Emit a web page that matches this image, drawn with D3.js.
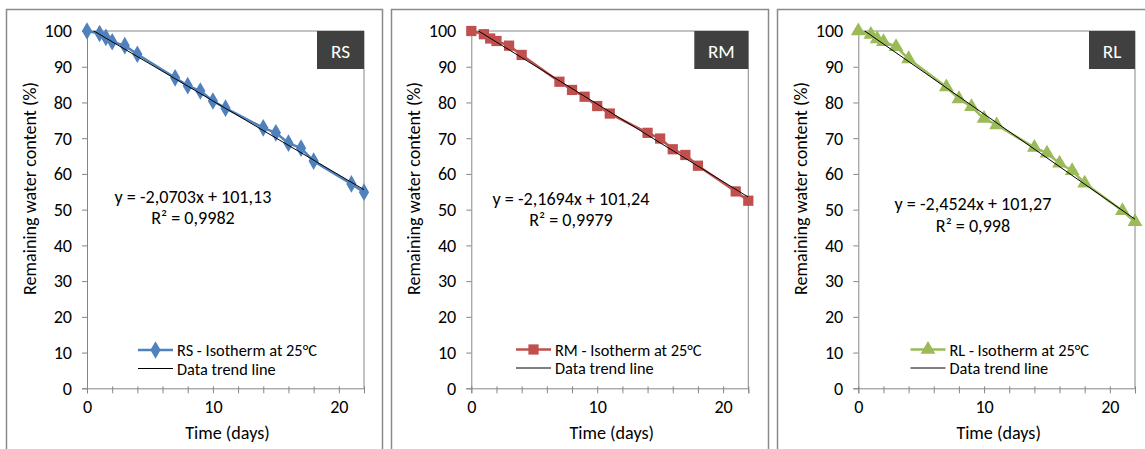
<!DOCTYPE html>
<html>
<head>
<meta charset="utf-8">
<script src="https://cdn.jsdelivr.net/npm/d3@7"></script>
<style>
  html, body { margin: 0; padding: 0; background: #fff; }
  svg { display: block; font-family: Carlito, Calibri, Lato, sans-serif; }
</style>
</head>
<body>
<svg id="chart" width="1145" height="449"></svg>
<script>
// ---------- data ----------
const days = [0, 1, 1.5, 2, 3, 4, 7, 8, 9, 10, 11, 14, 15, 16, 17, 18, 21, 22];
const rsValues = [100, 99.3, 98.2, 97.0, 95.9, 93.5, 86.9, 84.7, 83.2, 80.4, 78.4, 72.9, 71.5, 68.6, 67.2, 63.6, 57.2, 54.9];
const rmValues = [100, 99.1, 97.9, 97.2, 95.9, 93.3, 85.8, 83.5, 81.6, 79.0, 76.9, 71.5, 69.9, 66.9, 65.3, 62.3, 55.1, 52.5];
const rlValues = [100, 99.0, 97.8, 97.0, 95.6, 92.2, 84.3, 81.0, 78.8, 75.5, 73.7, 67.4, 65.8, 63.0, 60.9, 57.4, 49.7, 46.6];
const seriesCodes = ["RS", "RM", "RL"];
const seriesLabels = ["RS - Isotherm at 25°C", "RM - Isotherm at 25°C", "RL - Isotherm at 25°C"];
const trendLabel = "Data trend line";
const slopes = [-2.0703, -2.1694, -2.4524];
const intercepts = [101.13, 101.24, 101.27];
const equationTexts = ["y = -2,0703x + 101,13", "y = -2,1694x + 101,24", "y = -2,4524x + 101,27"];
const r2Texts = ["R² = 0,9982", "R² = 0,9979", "R² = 0,998"];
const yTickValues = [0, 10, 20, 30, 40, 50, 60, 70, 80, 90, 100];
const xTickLabelValues = [0, 10, 20];
const xTickMarkValues = [0, 2, 4, 6, 8, 10, 12, 14, 16, 18, 20, 22];
const yTitle = "Remaining water content (%)";
const xTitle = "Time (days)";

// ---------- layout / style ----------
const colors = ["#4F81BD", "#C0504D", "#9BBB59"];
const markerTypes = [d3.symbolDiamond, d3.symbolSquare, d3.symbolTriangle];
const markerSizes = [90, 105, 95];
const panels = [
  { frameX: 6.5,  frameW: 376, px0: 87,    px1: 364,   eqX: 193, eqY: 197, r2Y: 218, legX: 138,   legY: 350, badgeW: 47 },
  { frameX: 391.5, frameW: 377, px0: 471.3, px1: 748.3, eqX: 571, eqY: 199, r2Y: 220, legX: 516,   legY: 349.5, badgeW: 54 },
  { frameX: 777.5, frameW: 400, px0: 858.3, px1: 1135,  eqX: 973, eqY: 204, r2Y: 226, legX: 910.5, legY: 349.5, badgeW: 46 }
];
const plotTop = 31, plotBottom = 388.3;
const axisColor = "#868686";
const FONT = "Carlito, Calibri, Lato, sans-serif";

const svg = d3.select("#chart");

// fit font sizes to the reference text widths
const probe = svg.append("text").attr("font-size", 20).attr("font-family", FONT).text(yTitle);
const fontSize = 20 * 213 / probe.node().getComputedTextLength();
probe.text(seriesLabels[0]);
const legendFont = 20 * 140 / probe.node().getComputedTextLength();
probe.text("RS");
const badgeFont = Math.min(22, 20 * 19 / probe.node().getComputedTextLength());
probe.remove();

const allValues = [rsValues, rmValues, rlValues];

panels.forEach((p, i) => {
  const g = svg.append("g");
  g.append("rect")
    .attr("x", p.frameX).attr("y", 9.5)
    .attr("width", p.frameW).attr("height", 460)
    .attr("fill", "none").attr("stroke", "#8a8a8a").attr("stroke-width", 1.5);

  const x = d3.scaleLinear().domain([0, 22]).range([p.px0, p.px1]);
  const y = d3.scaleLinear().domain([0, 100]).range([plotBottom, plotTop]);

  g.append("path")
    .attr("d", `M${x(0)},${y(100)}H${x(22)}V${y(0)}`)
    .attr("fill", "none").attr("stroke", axisColor).attr("stroke-width", 1);

  const yAxis = d3.axisLeft(y).tickValues(yTickValues).tickSize(5).tickPadding(10).tickFormat(d3.format("d"));
  const ya = g.append("g").attr("transform", `translate(${x(0)},0)`).call(yAxis);
  ya.select(".domain").attr("stroke", axisColor);
  ya.selectAll(".tick line").attr("stroke", axisColor);
  ya.selectAll(".tick text").attr("font-size", fontSize).attr("fill", "#000").attr("font-family", FONT);

  const xMarks = d3.axisBottom(x).tickValues(xTickMarkValues).tickSize(5).tickFormat("");
  const xm = g.append("g").attr("transform", `translate(0,${y(0)})`).call(xMarks);
  xm.select(".domain").attr("stroke", axisColor);
  xm.selectAll(".tick line").attr("stroke", axisColor).attr("y1", -2);
  const xLabels = d3.axisBottom(x).tickValues(xTickLabelValues).tickSize(0).tickPadding(12).tickFormat(d3.format("d"));
  const xl = g.append("g").attr("transform", `translate(0,${y(0)})`).call(xLabels);
  xl.select(".domain").remove();
  xl.selectAll(".tick text").attr("font-size", fontSize).attr("fill", "#000").attr("font-family", FONT);

  g.append("text")
    .attr("transform", `translate(${x(0) - 57},${188.5}) rotate(-90)`)
    .attr("text-anchor", "middle").attr("dominant-baseline", "central")
    .attr("font-size", fontSize).attr("fill", "#000").text(yTitle);
  g.append("text")
    .attr("x", (x(0) + x(22)) / 2 + 2).attr("y", 433)
    .attr("text-anchor", "middle").attr("dominant-baseline", "central")
    .attr("font-size", fontSize).attr("fill", "#000").text(xTitle);

  const clipId = "clip" + i;
  svg.append("clipPath").attr("id", clipId).append("rect")
    .attr("x", x(0)).attr("y", y(100)).attr("width", x(22) - x(0)).attr("height", y(0) - y(100));

  const values = allValues[i];
  const pts = days.map((d, k) => [d, values[k]]);

  g.append("path")
    .datum(pts)
    .attr("d", d3.line().x(d => x(d[0])).y(d => y(d[1])))
    .attr("fill", "none").attr("stroke", colors[i]).attr("stroke-width", 2.5)
    .attr("stroke-linejoin", "round");

  const sym = d3.symbol().type(markerTypes[i]).size(markerSizes[i]);
  g.selectAll(".mk").data(pts).enter().append("path")
    .attr("transform", d => `translate(${x(d[0])},${y(d[1])})`)
    .attr("d", sym).attr("fill", colors[i]);

  const tl = [0, 22].map(d => [d, intercepts[i] + slopes[i] * d]);
  g.append("path")
    .datum(tl)
    .attr("clip-path", `url(#${clipId})`)
    .attr("d", d3.line().x(d => x(d[0])).y(d => y(d[1])))
    .attr("fill", "none").attr("stroke", "#000").attr("stroke-width", 1);

  g.append("text").attr("x", p.eqX).attr("y", p.eqY)
    .attr("text-anchor", "middle").attr("dominant-baseline", "central")
    .attr("font-size", fontSize).attr("fill", "#000").text(equationTexts[i]);
  g.append("text").attr("x", p.eqX).attr("y", p.r2Y)
    .attr("text-anchor", "middle").attr("dominant-baseline", "central")
    .attr("font-size", fontSize).attr("fill", "#000").text(r2Texts[i]);

  const bh = 38;
  g.append("rect").attr("x", x(22) - p.badgeW).attr("y", y(100))
    .attr("width", p.badgeW).attr("height", bh).attr("fill", "#404040");
  g.append("text").attr("x", x(22) - p.badgeW / 2).attr("y", y(100) + bh / 2 + 1)
    .attr("text-anchor", "middle").attr("dominant-baseline", "central")
    .attr("font-size", badgeFont).attr("fill", "#fff").text(seriesCodes[i]);

  const gap = 18.5;
  const lg = g.append("g");
  lg.append("line").attr("x1", p.legX).attr("x2", p.legX + 35)
    .attr("y1", p.legY).attr("y2", p.legY)
    .attr("stroke", colors[i]).attr("stroke-width", 2.5);
  lg.append("path").attr("transform", `translate(${p.legX + 17.5},${p.legY})`)
    .attr("d", sym).attr("fill", colors[i]);
  lg.append("text").attr("x", p.legX + 39).attr("y", p.legY)
    .attr("dominant-baseline", "central").attr("font-size", legendFont).attr("fill", "#000")
    .text(seriesLabels[i]);
  lg.append("line").attr("x1", p.legX).attr("x2", p.legX + 35)
    .attr("y1", p.legY + gap).attr("y2", p.legY + gap)
    .attr("stroke", "#000").attr("stroke-width", 1);
  lg.append("text").attr("x", p.legX + 39).attr("y", p.legY + gap)
    .attr("dominant-baseline", "central").attr("font-size", legendFont).attr("fill", "#000")
    .text(trendLabel);
});
</script>
</body>
</html>
